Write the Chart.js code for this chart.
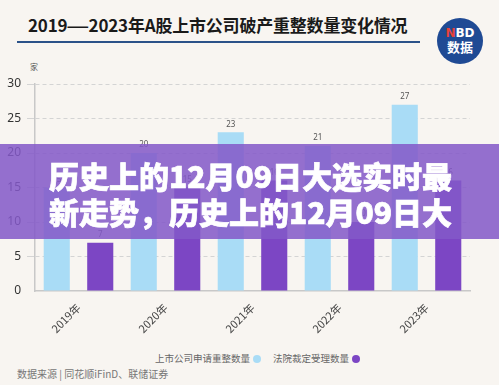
<!DOCTYPE html>
<html lang="zh">
<head>
  <meta charset="UTF-8" />
  <title>2019—2023年A股上市公司破产重整数量变化情况</title>
  <script src="https://cdn.jsdelivr.net/npm/chart.js"></script>
  <style>
    body {
      margin: 0;
      width: 499px;
      height: 385px;
      overflow: hidden;
      background: #f8f5f1;
      font-family: "Noto Sans CJK SC", "Noto Sans", sans-serif;
      position: relative;
    }
    .title {
      position: absolute;
      left: 28px;
      top: 12px;
      font-size: 17px;
      font-weight: bold;
      color: #1a1a1a;
      white-space: nowrap;
      letter-spacing: -0.2px;
    }
    .title .dash {
      display: inline-block;
      transform: scaleX(1.5);
      margin: 0 3px;
    }
    .rule {
      position: absolute;
      left: 17px;
      top: 41px;
      width: 403px;
      height: 2px;
      background: #2b5289;
    }
    .logo {
      position: absolute;
      left: 437px;
      top: 18px;
      width: 46px;
      height: 46px;
      border-radius: 50%;
      background: #1f4a94;
      color: #fff;
      text-align: center;
      font-weight: bold;
      line-height: 1;
    }
    .logo .nbd { font-size: 12px; margin-top: 9px; font-family: "DejaVu Sans", sans-serif; }
    .logo .nbd span { color: #e8413a; }
    .logo .sj { font-size: 13px; margin-top: 1px; }
    .unit {
      position: absolute;
      left: 30px;
      top: 61px;
      font-size: 8px;
      color: #555;
    }
    #wrap {
      position: absolute;
      left: 0;
      top: 60px;
      width: 499px;
      height: 290px;
    }
    .legend {
      position: absolute;
      left: 0;
      width: 499px;
      top: 351px;
      text-align: center;
      font-size: 9.5px;
      color: #666;
      padding-left: 16px;
      box-sizing: border-box;
    }
    .legend .dot {
      display: inline-block;
      width: 8px;
      height: 8px;
      border-radius: 50%;
      vertical-align: -1px;
      margin-left: 3px;
      margin-right: 12px;
    }
    .source {
      position: absolute;
      left: 17px;
      top: 366px;
      font-size: 10px;
      color: #777;
    }
    .banner {
      position: absolute;
      left: 0;
      top: 144px;
      width: 499px;
      height: 95px;
      background: rgba(132, 88, 200, 0.86);
      overflow: hidden;
    }
    .banner div {
      position: absolute;
      left: 49px;
      top: 13px;
      font-size: 30px;
      line-height: 36px;
      font-weight: 900;
      color: #fff;
      -webkit-text-stroke: 0.7px #fff;
      white-space: nowrap;
    }
  </style>
</head>
<body>
  <div class="title">2019<span class="dash">—</span>2023年A股上市公司破产重整数量变化情况</div>
  <div class="rule"></div>
  <div class="logo"><div class="nbd"><span>N</span>BD</div><div class="sj">数据</div></div>
  <div class="unit">家</div>
  <div id="wrap"><canvas id="chart"></canvas></div>
  <div class="legend">上市公司申请重整数量<span class="dot" style="background:#a9dcf6"></span>法院裁定受理数量<span class="dot" style="background:#7c46c4;margin-right:0"></span></div>
  <div class="source">数据来源 | 同花顺iFinD、联储证券</div>
  <div class="banner"><div>历史上的12月09日大选实时最<br>新走势，历史上的12月09日大</div></div>

  <script>
    const years = ['2019年', '2020年', '2021年', '2022年', '2023年'];
    const applied = [15, 20, 23, 21, 27];
    const accepted = [7, 15, 16, 10, 16];
    const yTicks = [0, 5, 10, 15, 20, 25, 30];

    // value labels above each bar
    const valueLabels = {
      id: 'valueLabels',
      afterDatasetsDraw(chart) {
        const ctx = chart.ctx;
        ctx.save();
        ctx.font = '8px "Noto Sans", sans-serif';
        ctx.fillStyle = '#555';
        ctx.textAlign = 'center';
        ctx.textBaseline = 'bottom';
        chart.data.datasets.forEach((ds, i) => {
          chart.getDatasetMeta(i).data.forEach((bar, j) => {
            ctx.fillText(ds.data[j], bar.x, bar.y - 4);
          });
        });
        ctx.restore();
      }
    };

    new Chart(document.getElementById('chart'), {
      type: 'bar',
      data: {
        labels: years,
        datasets: [
          { label: '上市公司申请重整数量', data: applied, backgroundColor: '#a9dcf6' },
          { label: '法院裁定受理数量', data: accepted, backgroundColor: '#7c46c4' }
        ]
      },
      options: {
        responsive: true,
        maintainAspectRatio: false,
        animation: false,
        categoryPercentage: 1.0,
        barPercentage: 0.6,
        layout: { padding: { left: 0, right: 29, top: 24, bottom: 0 } },
        plugins: { legend: { display: false }, tooltip: { enabled: false } },
        scales: {
          x: {
            grid: { display: false },
            border: { color: '#c8c8c8', width: 1.5 },
            ticks: {
              color: '#444',
              font: { size: 11, family: '"Noto Sans CJK SC", sans-serif' },
              maxRotation: 45,
              minRotation: 45,
              padding: 2
            },
            afterFit(s) { s.height = 59; }
          },
          y: {
            min: 0,
            max: 30,
            afterBuildTicks(s) { s.ticks = yTicks.map(v => ({ value: v })); },
            afterFit(s) { s.width = 35; },
            grid: {
              color: ctx => ctx.tick && ctx.tick.value === 0 ? 'rgba(0,0,0,0)' : '#d4d4d4',
              lineWidth: 1
            },
            border: { color: '#c8c8c8', width: 1.5, dash: [4, 3] },
            ticks: {
              color: '#333',
              font: { size: 12, family: '"Noto Sans", sans-serif' },
              padding: 6
            }
          }
        }
      },
      plugins: [valueLabels]
    });
  </script>
</body>
</html>
